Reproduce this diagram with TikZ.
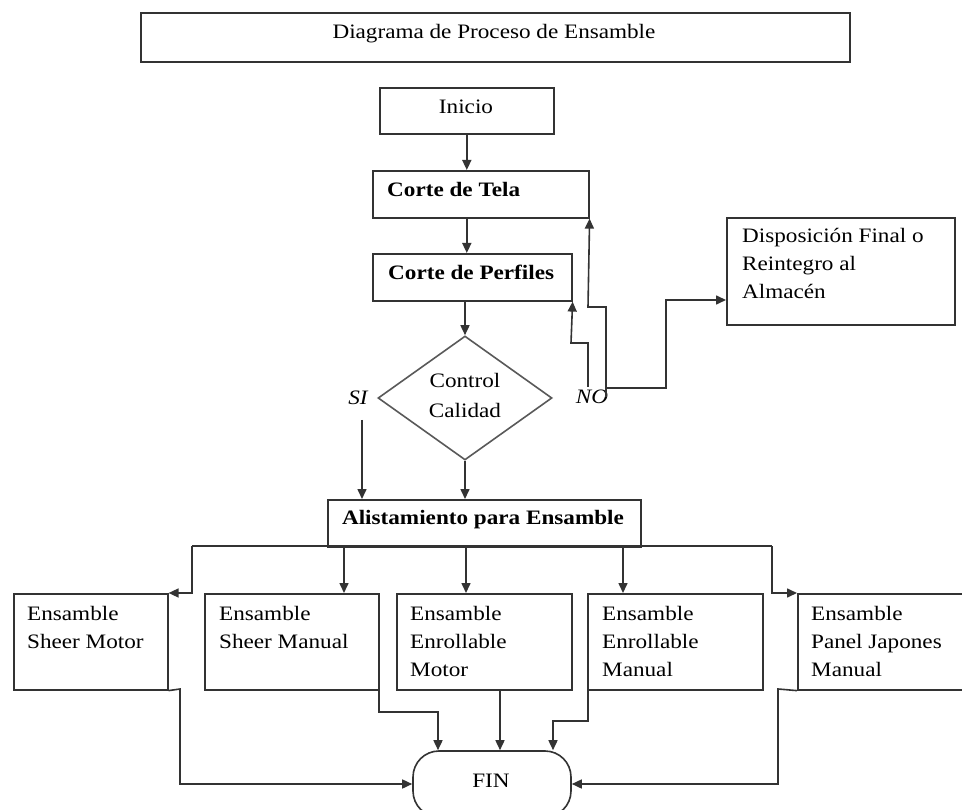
\documentclass[tikz,border=0pt]{standalone}
\usepackage{fontspec}
\setmainfont{Liberation Serif}[FakeStretch=1.13]
\usetikzlibrary{shapes.geometric,arrows.meta}
\tikzset{
  ln/.style={draw=black!80, line width=1.6pt},
  boxn/.style={ln, rectangle, inner sep=0pt, anchor=north west},
  txt/.style={inner sep=0pt, font=\fontsize{20.5}{28}\selectfont, align=left, anchor=base west},
  ctxt/.style={inner sep=0pt, font=\fontsize{20.5}{28}\selectfont, align=center, anchor=base},
  arr/.style={ln, -{Triangle[length=10pt,width=9pt]}},
}
\begin{document}
\begin{tikzpicture}[x=1pt,y=-1pt]
\useasboundingbox (0,0) rectangle (962,810);
\clip (0,0) rectangle (962,810);
\fill[white] (0,0) rectangle (962,810);

% boxes
\node[boxn, minimum width=709, minimum height=49] (title) at (140,12) {};
\node[boxn, minimum width=174, minimum height=46] (inicio) at (379,87) {};
\node[boxn, minimum width=216, minimum height=47] (tela) at (372,170) {};
\node[boxn, minimum width=199, minimum height=47] (perf) at (372,253) {};
\node[ln, diamond, draw=black!65, inner sep=0pt, minimum width=174, minimum height=124] (cc) at (465,398) {};
\node[boxn, minimum width=228, minimum height=107] (disp) at (726,217) {};
\node[boxn, minimum width=313, minimum height=47] (alist) at (327,499) {};
\node[boxn, minimum width=154, minimum height=96] (sm) at (13,593) {};
\node[boxn, minimum width=174, minimum height=96] (sman) at (204,593) {};
\node[boxn, minimum width=175, minimum height=96] (em) at (396,593) {};
\node[boxn, minimum width=175, minimum height=96] (eman) at (587,593) {};
\node[boxn, minimum width=175, minimum height=96] (pj) at (797,593) {};
\node[ln, rectangle, rounded corners=26pt, inner sep=0pt, minimum width=158, minimum height=66] (fin) at (492,784) {};

% texts (multi-line nodes are placed by the baseline of their last line)
\node[ctxt] (ttl) at (494,39) {Diagrama de Proceso de Ensamble};
\node[ctxt] (tini) at (466,114) {Inicio};
\node[txt, font=\fontsize{20.5}{28}\selectfont\bfseries] (ttela) at (387,197) {Corte de Tela};
\node[txt, font=\fontsize{20.5}{28}\selectfont\bfseries] (tperf) at (388,280) {Corte de Perfiles};
\node[ctxt, font=\fontsize{20.5}{30}\selectfont] (tcc) at (465,418) {Control\\Calidad};
\node[ctxt, font=\fontsize{20.5}{28}\selectfont\itshape] (tsi) at (358,405) {SI};
\node[ctxt, font=\fontsize{20.5}{28}\selectfont\itshape] (tno) at (592,404) {NO};
\node[txt] (tdisp) at (742,299) {Disposición Final o\\Reintegro al\\Almacén};
\node[ctxt, font=\fontsize{20.5}{28}\selectfont\bfseries] (talist) at (483,524) {Alistamiento para Ensamble};
\node[txt] (tsm) at (27,648) {Ensamble\\Sheer Motor};
\node[txt] (tsman) at (219,648) {Ensamble\\Sheer Manual};
\node[txt] (tem) at (410,676) {Ensamble\\Enrollable\\Motor};
\node[txt] (teman) at (602,676) {Ensamble\\Enrollable\\Manual};
\node[txt] (tpj) at (811,676) {Ensamble\\Panel Japones\\Manual};
\node[ctxt] (tfin) at (491,787) {FIN};

% main flow
\draw[arr] (inicio.south) -- (inicio.south |- tela.north);
\draw[arr] (inicio.south |- tela.south) -- (inicio.south |- perf.north);
\draw[arr] (cc.north |- perf.south) -- (cc.north);
\draw[arr] (cc.south) -- (cc.south |- alist.north);
\coordinate (si) at (362,420);
\draw[arr] (si) -- (si |- alist.north);

% NO branches
\coordinate (noA) at (588,387);
\draw[arr] (noA) -- (588,343) -- (571,343) -- (perf.south east);
\coordinate (noB) at (606,397);
\draw[arr] (noB) -- (606,307) -- (588,307) -- (tela.south east);
\coordinate (noC) at (606,388);
\coordinate (dp) at (666,300);
\draw[arr] (noC) -- (noC -| dp) -- (dp) -- (dp -| disp.west);

% distribution
\coordinate (bL) at (192,546);
\coordinate (bR) at (772,546);
\draw[ln] (bL) -- (bR);
\draw[arr] (bL) -- (bL |- sm.north) -- (sm.north east);
\draw[arr] (bR) -- (bR |- pj.north) -- (pj.north west);
\coordinate (b2) at (344,546);
\coordinate (b3) at (466,546);
\coordinate (b4) at (623,546);
\draw[arr] (b2) -- (b2 |- sman.north);
\draw[arr] (b3) -- (b3 |- em.north);
\draw[arr] (b4) -- (b4 |- eman.north);

% to FIN
\coordinate (c1) at (180,689);
\draw[arr] (sm.south east) -- (c1) -- (c1 |- fin.west) -- (fin.west);
\coordinate (c2) at (379,672);
\coordinate (c2b) at (438,712);
\draw[arr] (c2) -- (c2 |- c2b) -- (c2b) -- (c2b |- fin.north);
\coordinate (c3) at (500,689);
\draw[arr] (c3) -- (c3 |- fin.north);
\coordinate (c4) at (588,689);
\coordinate (c4b) at (553,721);
\draw[arr] (c4) -- (c4 |- c4b) -- (c4b) -- (c4b |- fin.north);
\coordinate (c5) at (778,689);
\draw[arr] (pj.south west) -- (c5) -- (c5 |- fin.east) -- (fin.east);
\end{tikzpicture}
\end{document}
